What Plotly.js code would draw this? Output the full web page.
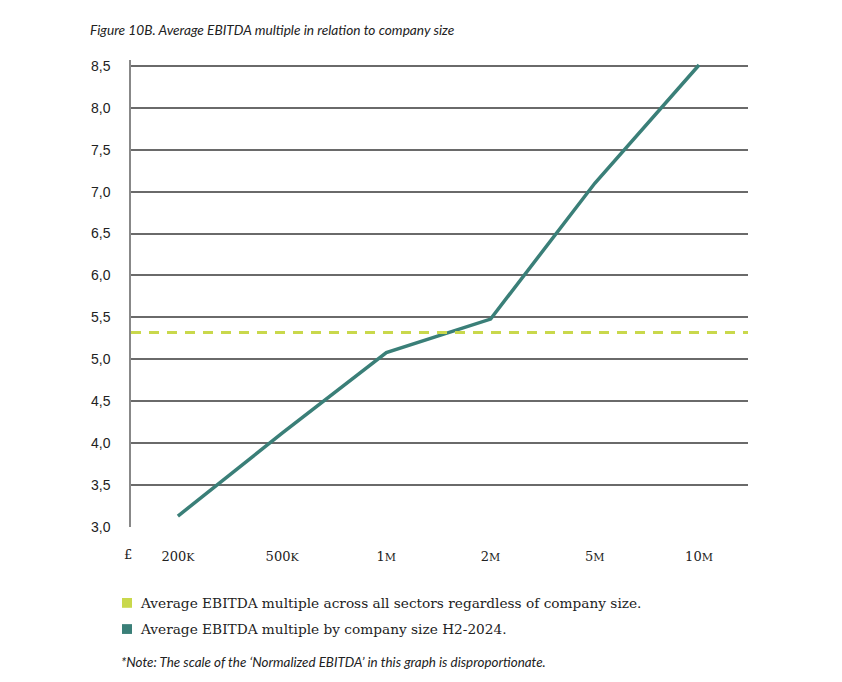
<!DOCTYPE html>
<html>
<head>
<meta charset="utf-8">
<script src="https://cdn.plot.ly/plotly-3.0.1.min.js"></script>
<style>
  html, body { margin: 0; padding: 0; background: #fff; }
  #chart { width: 842px; height: 682px; }
</style>
</head>
<body>
<div id="chart"></div>
<script>
// ---- data ----
const sizeCategories = ['200K', '500K', '1M', '2M', '5M', '10M'];
const sizeTickLabels = ['200<span style="font-size:11px">K</span>', '500<span style="font-size:11px">K</span>', '1<span style="font-size:11px">M</span>', '2<span style="font-size:11px">M</span>', '5<span style="font-size:11px">M</span>', '10<span style="font-size:11px">M</span>'];
const multipleBySize = [3.13, 4.12, 5.08, 5.48, 7.10, 8.51];
const averageAllSectors = 5.32;
const yTicks = [3.0, 3.5, 4.0, 4.5, 5.0, 5.5, 6.0, 6.5, 7.0, 7.5, 8.0, 8.5];
const seriesNames = [
  'Average EBITDA multiple across all sectors regardless of company size.',
  'Average EBITDA multiple by company size H2-2024.'
];
const seriesColors = ['#c9d84c', '#3a7f78'];
const titleText = 'Figure 10B. Average EBITDA multiple in relation to company size';
const noteText = '*Note: The scale of the ‘Normalized EBITDA’ in this graph is disproportionate.';

const serif = '"DejaVu Serif", "Liberation Serif", serif';
const sans = '"Liberation Sans", Arial, sans-serif';
const italicFont = 'Lato, "Open Sans", sans-serif';

const traces = [{
  type: 'scatter',
  mode: 'lines',
  x: sizeCategories,
  y: multipleBySize,
  name: seriesNames[1],
  line: { color: seriesColors[1], width: 3.5 },
  hoverinfo: 'x+y'
}];

const layout = {
  width: 842,
  height: 682,
  paper_bgcolor: '#fff',
  plot_bgcolor: '#fff',
  showlegend: false,
  separators: ', ',
  margin: { l: 131, r: 94, t: 60, b: 155 },
  xaxis: {
    type: 'category',
    categoryorder: 'array',
    categoryarray: sizeCategories,
    tickvals: sizeCategories,
    ticktext: sizeTickLabels,
    range: [-0.45, 5.47],
    showgrid: false,
    zeroline: false,
    showline: false,
    ticks: 'outside',
    ticklen: 17,
    tickcolor: 'rgba(0,0,0,0)',
    tickfont: { family: serif, size: 13, color: '#222' }
  },
  yaxis: {
    range: [3.0, 8.57],
    tickvals: yTicks,
    tickformat: '.1f',
    showgrid: true,
    gridcolor: '#6a6a6a',
    gridwidth: 1.5,
    zeroline: false,
    showline: true,
    linecolor: '#888',
    linewidth: 1.5,
    ticks: 'outside',
    ticklen: 16,
    tickcolor: 'rgba(0,0,0,0)',
    tickfont: { family: sans, size: 14, color: '#222' }
  },
  shapes: [
    {
      type: 'line', xref: 'paper', yref: 'y',
      x0: 0, x1: 1, y0: averageAllSectors, y1: averageAllSectors,
      line: { color: seriesColors[0], width: 3, dash: '10px,8px' },
      layer: 'above'
    },
    {
      type: 'rect', xref: 'paper', yref: 'paper',
      x0: -0.0146, x1: 0.0016, y0: -0.152, y1: -0.173,
      fillcolor: seriesColors[0], line: { width: 0 }
    },
    {
      type: 'rect', xref: 'paper', yref: 'paper',
      x0: -0.0146, x1: 0.0016, y0: -0.208, y1: -0.229,
      fillcolor: seriesColors[1], line: { width: 0 }
    }
  ],
  annotations: [
    {
      text: '<i>' + titleText + '</i>',
      xref: 'paper', yref: 'paper', x: -0.07, y: 1.0,
      xanchor: 'left', yanchor: 'bottom', yshift: 20,
      showarrow: false,
      font: { family: italicFont, size: 13.7, color: '#222' }
    },
    {
      text: '£',
      xref: 'paper', yref: 'paper', x: -0.005, y: 0,
      xanchor: 'center', yanchor: 'top', yshift: -18,
      showarrow: false,
      font: { family: serif, size: 13, color: '#222' }
    },
    {
      text: seriesNames[0],
      xref: 'paper', yref: 'paper', x: 0.011, y: -0.163,
      xanchor: 'left', yanchor: 'middle',
      showarrow: false,
      font: { family: serif, size: 13.7, color: '#222' }
    },
    {
      text: seriesNames[1],
      xref: 'paper', yref: 'paper', x: 0.011, y: -0.218,
      xanchor: 'left', yanchor: 'middle',
      showarrow: false,
      font: { family: serif, size: 13.7, color: '#222' }
    },
    {
      text: '<i>' + noteText + '</i>',
      xref: 'paper', yref: 'paper', x: -0.019, y: -0.289,
      xanchor: 'left', yanchor: 'middle',
      showarrow: false,
      font: { family: italicFont, size: 13.4, color: '#222' }
    }
  ]
};

Plotly.newPlot('chart', traces, layout, { displayModeBar: false, responsive: false });
</script>
</body>
</html>
